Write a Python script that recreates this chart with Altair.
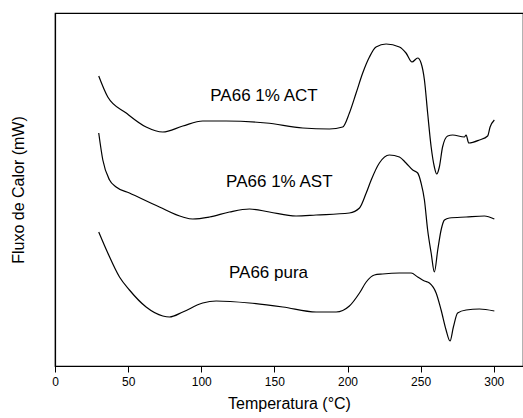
import altair as alt
import pandas as pd

# Temperature (°C) and heat-flow (arbitrary units)
act_t = [29.9, 36.1, 48.7, 62.3, 73.7, 87.4, 101, 117, 144.4, 169.4, 187.6, 196.7, 201.3, 205.9,
         210.4, 215, 219.5, 226.4, 235.5, 240, 244.1, 248, 250.3, 252.6, 254.8, 257.2,
         259.4, 261, 262.8, 265, 268.5, 271.9, 279.9, 281.1, 282.9, 290.2, 295.8, 297.5, 300.4]
act_y = [290, 269, 253, 239, 234, 240, 245, 245, 243, 238, 237, 239, 253, 273,
         293, 309, 319, 322, 319, 313, 304, 308, 303, 286, 253, 219,
         199, 192, 199, 219, 230, 231, 229, 231, 223, 226, 230, 239, 246]

ast_t = [29.9, 32.7, 37.3, 41.8, 50.9, 71.4, 87.4, 94.2, 105.6, 119.3, 133, 146.6, 164.8, 178.5,
         201.3, 208.2, 212.8, 216.2, 221.8, 228.6, 235.5, 240, 244.6, 248, 250.3, 252.6, 254.8,
         257.2, 259.4, 261.7, 264, 266.3, 269.7, 281.1, 293.6, 300.4]
ast_y = [233, 206, 186, 179, 173, 159, 149, 147, 149, 154, 157, 154, 150, 151,
         153, 158, 173, 186, 203, 211, 209, 203, 196, 193, 183, 166, 136,
         113, 94, 116, 136, 146, 148, 149, 150, 147]

pura_t = [29.9, 36.1, 44.1, 50.9, 62.3, 73.7, 78.3, 87.4, 101, 110.2, 133, 155.8, 178.5, 192.2,
          201.3, 208.2, 212.8, 218.4, 224, 235.5, 243.5, 248, 252.6, 256, 260.6, 264, 267.4,
          270.1, 272.4, 275.3, 281.1, 290.2, 300.4]
pura_y = [134, 113, 89, 76, 59, 50, 49, 54, 63, 65, 63, 59, 54, 54,
          60, 73, 84, 91, 92, 93, 93, 89, 85, 83, 73, 56, 36,
          25, 39, 53, 56, 57, 55]

label_text = ["PA66 1% ACT", "PA66 1% AST", "PA66 pura"]
label_t = [142.9, 153.4, 146.0]
label_y = [270, 184, 93]

x_ticks = [0, 25, 50, 75, 100, 125, 150, 175, 200, 225, 250, 275, 300]

rows = []
for name, ts, ys in [("ACT", act_t, act_y), ("AST", ast_t, ast_y), ("pura", pura_t, pura_y)]:
    for i, (t, y) in enumerate(zip(ts, ys)):
        rows.append({"serie": name, "T": t, "Q": y, "ord": i})
df = pd.DataFrame(rows)
labels = pd.DataFrame({"text": label_text, "T": label_t, "Q": label_y})

FONT = "Liberation Sans"

xscale = alt.Scale(domain=[0, 320], nice=False, zero=False)
yscale = alt.Scale(domain=[0, 353], nice=False, zero=False)

xaxis = alt.Axis(
    title="Temperatura (°C)",
    values=x_ticks,
    labelExpr="datum.value % 50 === 0 ? datum.label : ''",
    tickSize={"condition": {"test": "datum.value % 50 === 0", "value": 6}, "value": 3},
    tickColor="black",
    tickWidth=1,
    domainColor="black",
    domainWidth=1.2,
    grid=False,
    labelFont=FONT,
    labelFontSize=12,
    labelColor="black",
    labelPadding=4,
    labelFlush=False,
    titleFont=FONT,
    titleFontSize=16,
    titleFontWeight="normal",
    titleColor="black",
    titlePadding=8,
)
yaxis = alt.Axis(
    title="Fluxo de Calor (mW)",
    labels=False,
    ticks=False,
    grid=False,
    domainColor="black",
    domainWidth=1.2,
    titleFont=FONT,
    titleFontSize=16,
    titleFontWeight="normal",
    titleColor="black",
    titlePadding=29,
)

lines = alt.Chart(df).mark_line(color="black", strokeWidth=1.2, interpolate="monotone").encode(
    x=alt.X("T:Q", scale=xscale, axis=xaxis),
    y=alt.Y("Q:Q", scale=yscale, axis=yaxis),
    detail="serie:N",
    order="ord:Q",
)

texts = alt.Chart(labels).mark_text(font=FONT, fontSize=17, color="black", align="center", baseline="middle").encode(
    x=alt.X("T:Q", scale=xscale),
    y=alt.Y("Q:Q", scale=yscale),
    text="text:N",
)

chart = alt.layer(lines, texts).properties(
    width=468,
    height=353,
    padding={"left": 55, "top": 13, "right": 0, "bottom": 52},
    autosize=alt.AutoSizeParams(type="none"),
    background="white",
).configure_view(stroke="black", strokeWidth=1.2)

chart.save("out.html", embed_options={"renderer": "svg", "actions": False})
